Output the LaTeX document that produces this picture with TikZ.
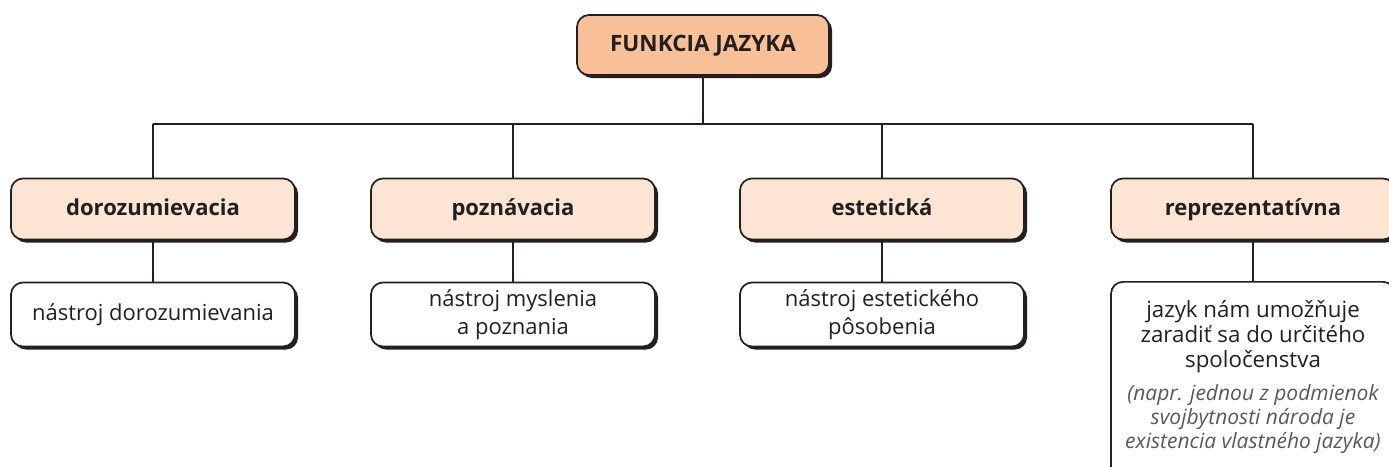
\documentclass[tikz,border=0pt]{standalone}
\usepackage{fontspec}
\setmainfont{Open Sans}
\usetikzlibrary{shadows}
\definecolor{topfill}{RGB}{248,192,152}
\definecolor{midfill}{RGB}{253,229,212}
\definecolor{ink}{RGB}{35,31,32}
\definecolor{note}{RGB}{88,89,91}
\newcommand\mystrut{\rule[-0.2em]{0pt}{1.02em}}
\tikzset{
  box/.style={draw=ink, line width=1.7pt, rounded corners=12pt, minimum width=284pt,
    align=center, text=ink, inner sep=0pt,
    drop shadow={shadow xshift=3pt, shadow yshift=-3pt, opacity=1, fill=ink}},
  topbox/.style={box, fill=topfill, minimum width=252pt, minimum height=60pt,
    font=\fontsize{22.5}{28}\selectfont\bfseries},
  midbox/.style={box, fill=midfill, minimum height=61pt,
    font=\fontsize{22}{28}\selectfont\bfseries},
  lowbox/.style={box, fill=white, minimum height=64pt,
    font=\fontsize{22}{28}\selectfont},
  conn/.style={draw=ink, line width=1.7pt},
}
\begin{document}
\begin{tikzpicture}[x=1pt,y=-1pt]
\useasboundingbox (0,0) rectangle (1389,466);
\clip (0,0) rectangle (1389,466);
\fill[white] (0,0) rectangle (1389,466);
\node[topbox] (top) at (703,45) {\mystrut FUNKCIA JAZYKA};
\node[midbox] (m1) at (153,209) {\mystrut dorozumievacia};
\node[midbox] (m2) at (513,209) {\mystrut poznávacia};
\node[midbox] (m3) at (882,209) {\mystrut estetická};
\node[midbox] (m4) at (1253,209) {\mystrut reprezentatívna};
\node[lowbox] (l1) at (153,314.5) {\mystrut nástroj dorozumievania};
\node[lowbox] (l2) at (513,314.5) {\mystrut nástroj myslenia\\\mystrut a poznania};
\node[lowbox] (l3) at (882,314.5) {\mystrut nástroj estetického\\\mystrut pôsobenia};
\node[box, fill=white, minimum height=200pt, anchor=north] (l4) at (1253,281) {};
\node[anchor=north, align=center, text=ink, font=\fontsize{22.3}{25.3}\selectfont, inner sep=0pt] (l4a) at (1253,297) {\rule{0pt}{20pt}jazyk nám umožňuje\\zaradiť sa do určitého\\spoločenstva};
\node[anchor=north, align=center, text=note, font=\fontsize{21}{24}\selectfont\itshape, inner sep=0pt] (l4b) at (1253,382) {\rule{0pt}{18pt}(napr. jednou z podmienok\\svojbytnosti národa je\\existencia vlastného jazyka)};
\coordinate (hub) at (703,124);
\coordinate (h1) at (153,124);
\coordinate (h4) at (1253,124);
\draw[conn] (top.south) -- (hub);
\draw[conn] (h1) -- (h4);
\draw[conn] (h1) -- (m1.north);
\draw[conn] (m2.north |- hub) -- (m2.north);
\draw[conn] (m3.north |- hub) -- (m3.north);
\draw[conn] (h4) -- (m4.north);
\draw[conn] (m1.south) -- (l1.north);
\draw[conn] (m2.south) -- (l2.north);
\draw[conn] (m3.south) -- (l3.north);
\draw[conn] (m4.south) -- (l4.north);
\end{tikzpicture}
\end{document}
